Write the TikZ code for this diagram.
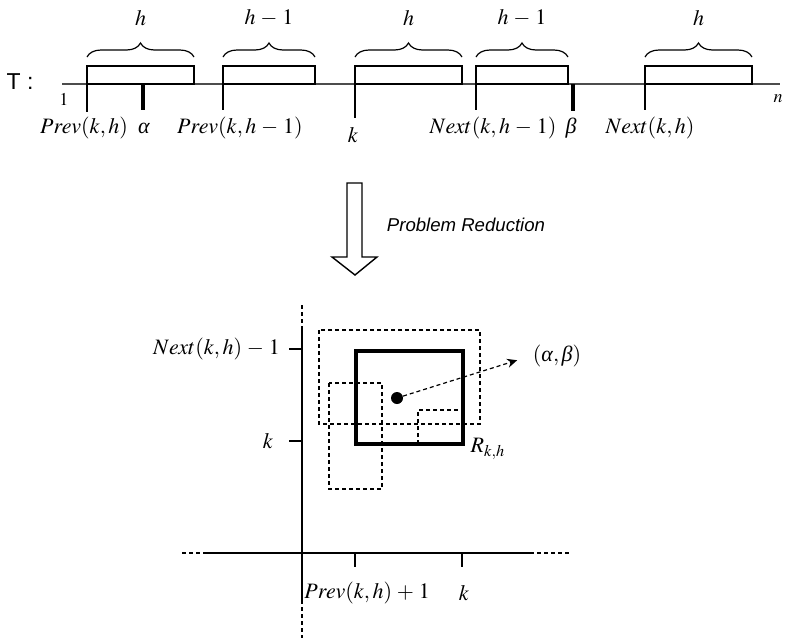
\documentclass[tikz,border=0pt]{standalone}
\usepackage{mathptmx}
\usepackage{fontspec}
\newfontfamily\sansfont{Liberation Sans}
\newfontfamily\greekfont{Liberation Serif}
\newcommand\galpha{\hbox{\greekfont\itshape α}}
\newcommand\gbeta{\hbox{\greekfont\itshape β}}
\newcommand\bminus{\mathbin{\mskip1.5mu-\mskip1.5mu}}
\newcommand\bplus{\mathbin{\mskip1.5mu+\mskip1.5mu}}
\usetikzlibrary{decorations.pathreplacing,arrows.meta}
\begin{document}
\begin{tikzpicture}[x=0.5pt,y=-0.5pt,
    every node/.style={font=\fontsize{11}{13}\selectfont},
    thin line/.style={line width=0.6pt},
    bartick/.style={line width=1.7pt},
    dashbox/.style={line width=0.6pt,dash pattern=on 2pt off 1.5pt},
    brc/.style={decorate,decoration={brace,amplitude=7pt},line width=0.6pt}]
  \useasboundingbox (0,0) rectangle (788,638);
  % the text T with its blocks
  \node[font=\sansfont\fontsize{11.5}{13}\selectfont] (T) at (20,82) {T :};
  \draw[black!70,line width=0.7pt] (62,84) -- (780,84);
  \node[font=\small] (one) at (64,99) {$1$};
  \node[font=\small] (n) at (778,99) {$n$};
  \foreach \a/\b/\t [count=\i] in {87/194/h, 223/315/h\bminus 1, 355/462/h, 476/568/h\bminus 1, 645/752/h}
  {
    \draw[thin line] (\a,84) rectangle (\b,66);
    \draw[brc] (\a,57) -- (\b,57);
    \node (len\i) at ({(\a+\b)/2},18) {$\t$};
  }
  \begin{scope}[thin line]
    \draw (87,84) -- (87,112);
    \draw (223,84) -- (223,110);
    \draw (355,84) -- (355,118);
    \draw (476,84) -- (476,110);
    \draw (645,84) -- (645,110);
  \end{scope}
  \draw[bartick] (143,84) -- (143,110);
  \draw[bartick] (573,84) -- (573,111);
  \draw
    (84,128) node (p1) {$Prev(k,h)$}
    (144,128) node (al) {$\galpha$}
    (240,128) node (p2) {$Prev(k,h\bminus 1)$}
    (353,135) node (k1) {$k$}
    (493,128) node (n2) {$Next(k,h\bminus 1)$}
    (571,128) node (be) {$\gbeta$}
    (650,128) node (n1) {$Next(k,h)$};
  % reduction arrow
  \draw[line width=0.7pt] (347,183) -- (362,183) -- (362,257) -- (377,257)
    -- (355,275) -- (332,257) -- (347,257) -- cycle;
  \node[font=\sansfont\itshape\fontsize{9.3}{11}\selectfont] (red) at (466,225) {Problem Reduction};
  % the plane
  \begin{scope}[line width=0.8pt]
    \draw (302,330) -- (302,600);
    \draw (207,553) -- (530,553);
    \draw (289,349) -- (302,349);
    \draw (289,441) -- (302,441);
    \draw (355,553) -- (355,567);
    \draw (462,553) -- (462,567);
  \end{scope}
  \begin{scope}[line width=0.8pt,dash pattern=on 2pt off 1.5pt]
    \draw (302,305) -- (302,330);
    \draw (302,600) -- (302,638);
    \draw (182,553) -- (207,553);
    \draw (530,553) -- (570,553);
  \end{scope}
  \node[anchor=east] (ny) at (287,349) {$Next(k,h)\bminus 1$};
  \node (ky) at (268,441) {$k$};
  \node[anchor=west,inner sep=0pt] (px) at (304,593) {$Prev(k,h)\bplus 1$};
  \node (kx) at (464,593) {$k$};
  \draw[dashbox] (319,330) rectangle (480,424);
  \draw[dashbox] (329,383) rectangle (382,489);
  \draw[dashbox] (418,444) |- (463,410);
  \draw[line width=1.7pt] (356,351) rectangle (463,444);
  \node (R) at (488,449) {$R_{k,h}$};
  \node[circle,fill,inner sep=0pt,minimum size=6pt] (dot) at (397,398) {};
  \node[inner sep=1pt] (ab) at (557,356) {$(\galpha,\gbeta)$};
  \draw[dashbox,-{Stealth[length=5pt,width=4.5pt]},shorten >=7pt] (dot) -- (ab.west);
\end{tikzpicture}
\end{document}
